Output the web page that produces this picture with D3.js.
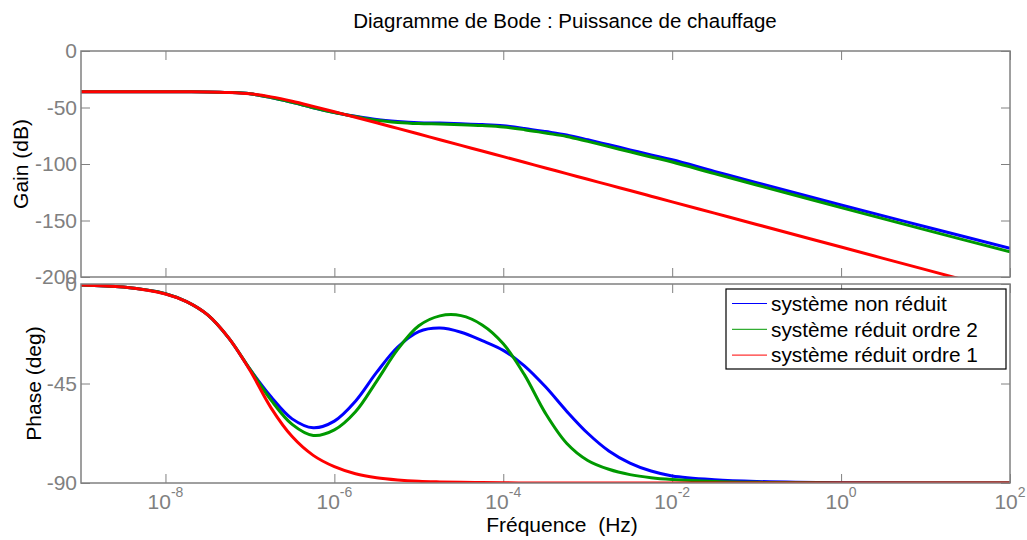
<!DOCTYPE html>
<html lang="fr">
<head>
  <meta charset="utf-8">
  <title>Diagramme de Bode</title>
  <script src="https://d3js.org/d3.v7.min.js"></script>
  <style>
    body { margin: 0; background: #fff; }
    text { font-family: Arial, "Liberation Sans", sans-serif; }
  </style>
</head>
<body>
<script>

// frequency points, as powers of ten (Hz)
var freqExp = [-9, -8.5, -8, -7.75, -7.5, -7.25, -7, -6.75, -6.5, -6.25, -6, -5.75, -5.5, -5.25, -5,
               -4.75, -4.5, -4.25, -4, -3.75, -3.5, -3.25, -3, -2.75, -2.5, -2.25, -2, -1.5, -1, 0, 1, 2];

// gain (dB)
var gainNonReduit = [-36.0, -36.0, -36.1, -36.1, -36.2, -36.7, -37.9, -41.2, -45.5, -50.2, -54.5, -57.8, -60.6, -62.3, -63.4,
                     -63.8, -64.4, -65.1, -66.2, -68.5, -71.3, -74.3, -78.5, -83.0, -87.5, -92.0, -96.3, -106.5, -116.5, -136.3, -155.5, -174.6];
var gainOrdre2 = [-36.0, -36.0, -36.1, -36.1, -36.2, -36.7, -37.9, -41.2, -45.5, -50.2, -54.5, -58.0, -61.3, -63.2, -64.2,
                  -64.6, -65.2, -66.0, -67.2, -69.6, -72.6, -75.6, -80.0, -84.6, -89.2, -93.8, -98.2, -108.5, -118.6, -138.6, -158.3, -177.8];
var gainOrdre1 = [-36.0, -36.0, -36.1, -36.1, -36.2, -36.7, -37.9, -40.6, -44.4, -49.0, -53.8, -58.6, -63.5, -68.5, -73.5,
                  -78.5, -83.5, -88.5, -93.5, -98.5, -103.5, -108.5, -113.5, -118.5, -123.5, -128.5, -133.5, -143.5, -153.5, -173.5, -193.5, -213.5];

// phase (deg)
var phaseNonReduit = [-0.4, -1.4, -4.4, -8.0, -14.0, -24.5, -38.5, -51.0, -61.0, -65.0, -62.0, -53.0, -40.0, -28.5, -21.5,
                      -19.9, -21.8, -25.6, -30.0, -37.0, -46.5, -57.5, -67.5, -75.5, -81.0, -84.6, -86.8, -88.5, -89.3, -89.9, -90, -90];
var phaseOrdre2 = [-0.4, -1.4, -4.4, -8.0, -14.0, -24.5, -38.5, -52.5, -63.5, -68.5, -66.0, -57.8, -44.0, -29.6, -18.9,
                   -14.4, -14.3, -18.5, -27.0, -41.0, -58.5, -72.0, -79.8, -83.8, -86.2, -87.6, -88.4, -89.3, -89.7, -90, -90, -90];
var phaseOrdre1 = [-0.4, -1.4, -4.5, -8.0, -14.0, -24.5, -39.0, -56.0, -69.0, -77.5, -82.6, -85.8, -87.6, -88.6, -89.2,
                   -89.5, -89.7, -89.8, -89.9, -90, -90, -90, -90, -90, -90, -90, -90, -90, -90, -90, -90, -90];

var seriesNames = ["système non réduit", "système réduit ordre 2", "système réduit ordre 1"];
var seriesColors = ["#0000ff", "#009900", "#ff0000"];

var xTickExp = [-8, -6, -4, -2, 0, 2];
var gainTicks = [0, -50, -100, -150, -200];
var phaseTicks = [0, -45, -90];

var width = 1027, height = 540;
var left = 81, right = 1010;
var gainTop = 51, gainBottom = 277;
var phaseTop = 284, phaseBottom = 483;
var grey = "#808080";

var svg = d3.select("body")
            .append("svg")
            .attr("width", width)
            .attr("height", height);

var x = d3.scaleLog().domain([1e-9, 1e2]).range([left, right]);
var yGain = d3.scaleLinear().domain([-200, 0]).range([gainBottom, gainTop]);
var yPhase = d3.scaleLinear().domain([-90, 0]).range([phaseBottom, phaseTop]);

var freq = freqExp.map(function(e) { return Math.pow(10, e); });
var xTickVals = xTickExp.map(function(e) { return Math.pow(10, e); });

// draws one panel: box, inward ticks, y labels, curves
function drawPanel(name, y, top, bottom, ticks, series) {
  var g = svg.append("g");

  g.append("clipPath").attr("id", "clip-" + name)
   .append("rect")
   .attr("x", left).attr("y", top)
   .attr("width", right - left).attr("height", bottom - top);

  var yl = g.append("g").attr("transform", "translate(" + left + ",0)")
    .call(d3.axisLeft(y).tickValues(ticks).tickSizeInner(-9).tickSizeOuter(0).tickPadding(4)
      .tickFormat(function(d) { return String(d); }));
  var yr = g.append("g").attr("transform", "translate(" + right + ",0)")
    .call(d3.axisRight(y).tickValues(ticks).tickSizeInner(-9).tickSizeOuter(0).tickFormat(""));
  var xt = g.append("g").attr("transform", "translate(0," + top + ")")
    .call(d3.axisTop(x).tickValues(xTickVals).tickSizeInner(-9).tickSizeOuter(0).tickFormat(""));
  var xb = g.append("g").attr("transform", "translate(0," + bottom + ")")
    .call(d3.axisBottom(x).tickValues(xTickVals).tickSizeInner(-9).tickSizeOuter(0).tickFormat(""));

  [yl, yr, xt, xb].forEach(function(a) {
    a.select(".domain").remove();
    a.selectAll("line").attr("stroke", grey);
  });
  yl.selectAll("text")
    .attr("fill", grey)
    .attr("font-size", "21px")
    .style("font-family", "Arial, 'Liberation Sans', sans-serif");

  var line = d3.line()
    .x(function(d, i) { return x(freq[i]); })
    .y(function(d) { return y(d); })
    .curve(d3.curveCatmullRom.alpha(0.5));

  g.append("g").attr("clip-path", "url(#clip-" + name + ")")
    .selectAll("path")
    .data(series)
    .enter()
      .append("path")
      .attr("d", line)
      .attr("fill", "none")
      .attr("stroke", function(d, i) { return seriesColors[i]; })
      .attr("stroke-width", 3)
      .attr("stroke-linejoin", "round");

  g.append("rect")
    .attr("x", left).attr("y", top)
    .attr("width", right - left).attr("height", bottom - top)
    .attr("fill", "none")
    .attr("stroke", grey)
    .attr("stroke-width", 1.5);
}

drawPanel("gain", yGain, gainTop, gainBottom, gainTicks, [gainNonReduit, gainOrdre2, gainOrdre1]);
drawPanel("phase", yPhase, phaseTop, phaseBottom, phaseTicks, [phaseNonReduit, phaseOrdre2, phaseOrdre1]);

// x tick labels 10^n
var xl = svg.selectAll(".xlab")
  .data(xTickExp)
  .enter()
    .append("text")
    .attr("class", "xlab")
    .attr("x", function(d) { return x(Math.pow(10, d)); })
    .attr("y", 509)
    .attr("text-anchor", "middle")
    .attr("fill", grey)
    .attr("font-size", "21px");
xl.append("tspan").text("10");
xl.append("tspan")
  .attr("dy", -12)
  .attr("font-size", "14px")
  .text(function(d) { return d; });

// titles
svg.append("text")
  .attr("x", 565)
  .attr("y", 28)
  .attr("text-anchor", "middle")
  .attr("font-size", "20.5px")
  .text("Diagramme de Bode : Puissance de chauffage");

svg.append("text")
  .attr("x", 562)
  .attr("y", 532)
  .attr("text-anchor", "middle")
  .attr("font-size", "21px")
  .style("white-space", "pre")
  .text("Fréquence  (Hz)");

svg.append("text")
  .attr("transform", "translate(28," + (gainTop + gainBottom) / 2 + ") rotate(-90)")
  .attr("text-anchor", "middle")
  .attr("font-size", "21px")
  .text("Gain (dB)");

svg.append("text")
  .attr("transform", "translate(41," + (phaseTop + phaseBottom) / 2 + ") rotate(-90)")
  .attr("text-anchor", "middle")
  .attr("font-size", "21px")
  .text("Phase (deg)");

// legend
var legend = svg.append("g").attr("transform", "translate(726,289)");
legend.append("rect")
  .attr("width", 280).attr("height", 80)
  .attr("fill", "#fff")
  .attr("stroke", "#000")
  .attr("stroke-width", 1.2);

var rows = legend.selectAll(".row")
  .data(seriesNames)
  .enter()
    .append("g")
    .attr("transform", function(d, i) { return "translate(0," + (14.5 + i * 25.8) + ")"; });
rows.append("line")
  .attr("x1", 6).attr("x2", 41)
  .attr("stroke", function(d, i) { return seriesColors[i]; })
  .attr("stroke-width", 1);
rows.append("text")
  .attr("x", 45)
  .attr("dy", "0.35em")
  .attr("font-size", "20.8px")
  .text(function(d) { return d; });

</script>
</body>
</html>
